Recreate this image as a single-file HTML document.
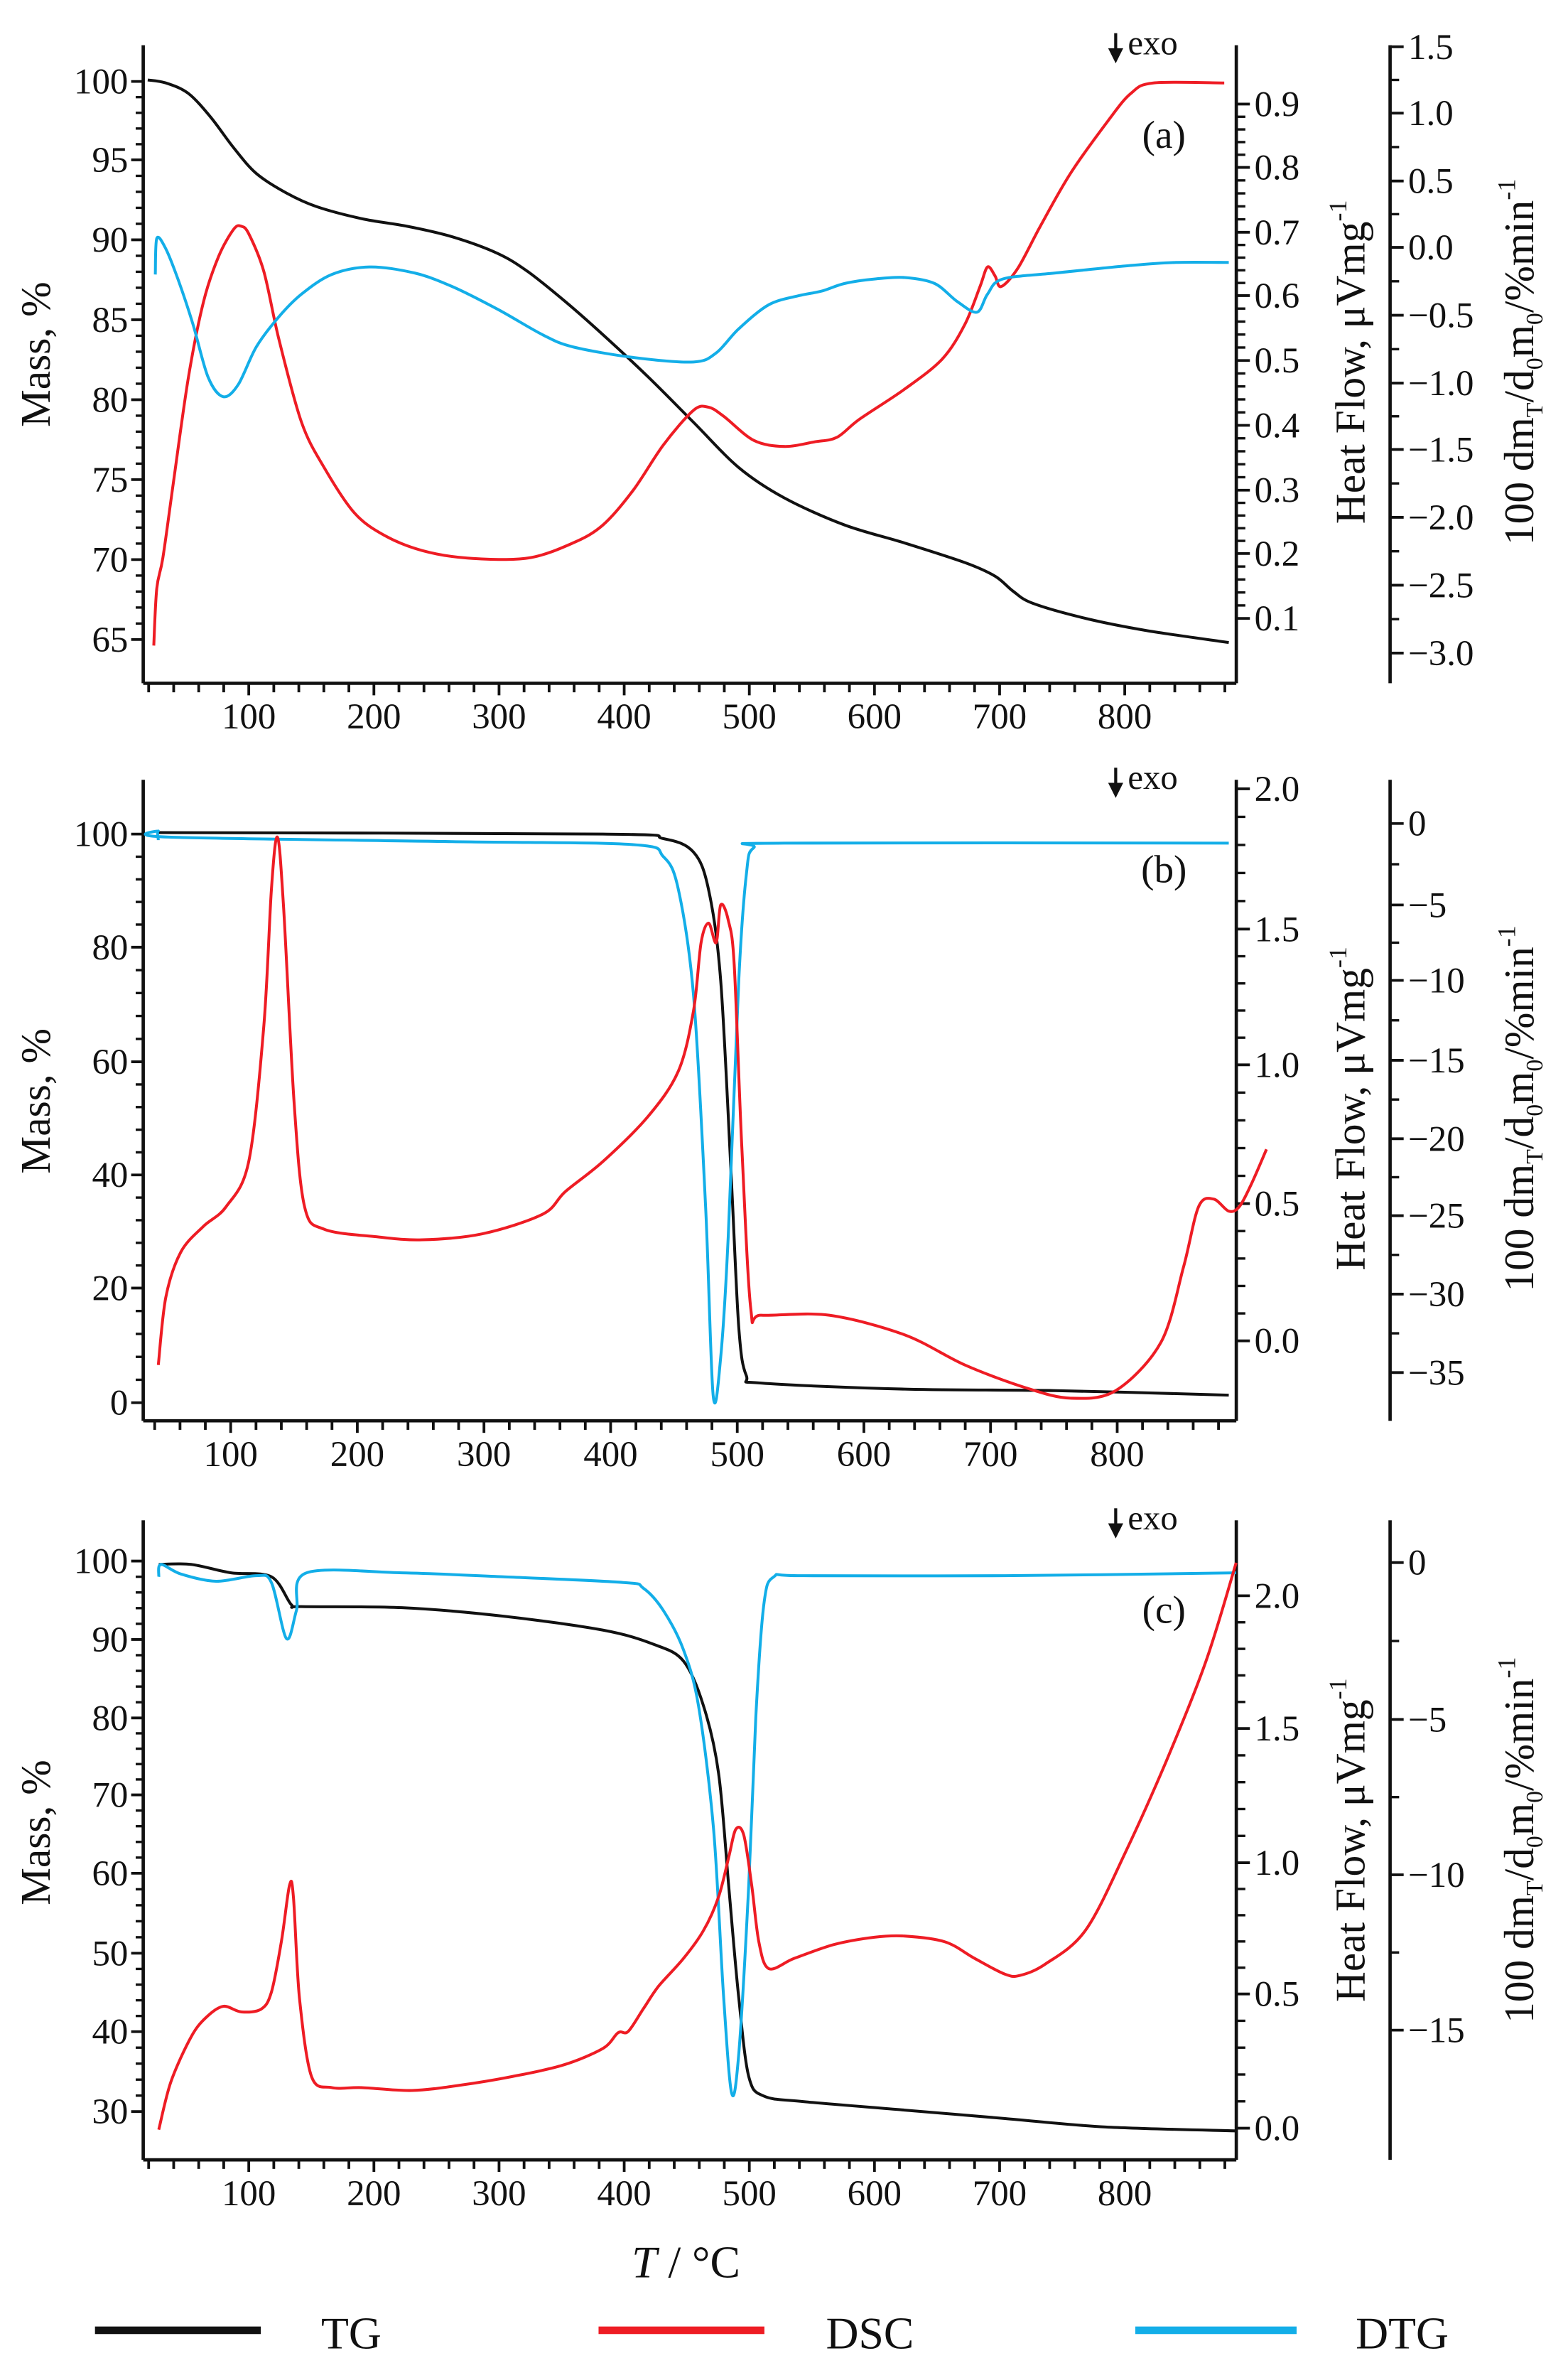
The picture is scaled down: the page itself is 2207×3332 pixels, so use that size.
<!DOCTYPE html>
<html><head><meta charset="utf-8"><style>
html,body{margin:0;padding:0;background:#fff;}
svg{display:block;}
text{font-family:"Liberation Serif",serif;fill:#111;}
</style></head><body>
<svg id="s" width="2207" height="3332" viewBox="0 0 1040 1570" preserveAspectRatio="none" xmlns="http://www.w3.org/2000/svg"></svg>
<script>
const S=document.getElementById('s');let h='';
function ln(x1,y1,x2,y2,w){h+=`<line x1="${x1}" y1="${y1}" x2="${x2}" y2="${y2}" stroke="#111" stroke-width="${w||2.2}"/>`;}
function tx(x,y,t,a,sz,extra){h+=`<text x="${x}" y="${y}" font-size="${sz||24}" text-anchor="${a||'middle'}" ${extra||''}>${t}</text>`;}
function path(p,c){
  let d='M'+p[0][0].toFixed(1)+','+p[0][1].toFixed(1);
  for(let i=0;i<p.length-1;i++){
    const p0=p[i-1]||p[i],p1=p[i],p2=p[i+1],p3=p[i+2]||p2;
    const t=0.16;
    const c1=[p1[0]+(p2[0]-p0[0])*t,p1[1]+(p2[1]-p0[1])*t];
    const c2=[p2[0]-(p3[0]-p1[0])*t,p2[1]-(p3[1]-p1[1])*t];
    d+=` C${c1[0].toFixed(1)},${c1[1].toFixed(1)} ${c2[0].toFixed(1)},${c2[1].toFixed(1)} ${p2[0].toFixed(1)},${p2[1].toFixed(1)}`;
  }
  h+=`<path d="${d}" fill="none" stroke="${c}" stroke-width="1.9" stroke-linejoin="round"/>`;}
const BLK='#111',RED='#ee1c24',BLU='#13aee8';
function panel(top,bot,xlab,xstart,xstep,left,hf,dtg){
  ln(95,top,95,bot);ln(95,bot,820,bot);ln(820,top,820,bot);ln(922,top,922,bot);
  for(let T=0;T<=900;T+=20){let x=xstart+(T-100)*xstep;if(x<97||x>818)continue;ln(x,bot,x,bot+(T%100==0?8:6),1.8);}
  for(let T=100;T<=800;T+=100){tx(xstart+(T-100)*xstep,bot+30,T);}
  left.forEach(([y,l])=>{ln(87,y,95,y,1.8);tx(85,y+8,l,'end');});
  for(let i=0;i<left.length-1;i++){let a=left[i][0],b=left[i+1][0];for(let k=1;k<5;k++){let y=a+(b-a)*k/5;ln(90,y,95,y,1.6);}}
  hf.forEach(([y,l])=>{ln(820,y,829,y,1.8);tx(832,y+8,l,'start');});
  for(let i=0;i<hf.length-1;i++){let a=hf[i][0],b=hf[i+1][0];for(let k=1;k<5;k++){let y=a+(b-a)*k/5;ln(820,y,826,y,1.6);}}
  dtg.forEach(([y,l])=>{ln(922,y,931,y,1.8);tx(934,y+8,l,'start');});
  for(let i=0;i<dtg.length-1;i++){let y=(dtg[i][0]+dtg[i+1][0])/2;ln(922,y,928,y,1.6);}
  h+=`<line x1="740" y1="${top-8}" x2="740" y2="${top+4}" stroke="#111" stroke-width="2"/><polygon points="735,${top+2} 745,${top+2} 740,${top+12}" fill="#111"/>`;
  tx(748,top+6,'exo','start',23);
  tx(772,top+68,xlab,'middle',26);
}
panel(30,453,'(a)',165,0.83,
 [[54,'100'],[106,'95'],[159,'90'],[212,'85'],[265,'80'],[318,'75'],[371,'70'],[424,'65']],
 [[69,'0.9'],[111,'0.8'],[154,'0.7'],[196,'0.6'],[239,'0.5'],[282,'0.4'],[325,'0.3'],[367,'0.2'],[410,'0.1']],
 [[31,'1.5'],[75,'1.0'],[120,'0.5'],[164,'0.0'],[209,'−0.5'],[254,'−1.0'],[298,'−1.5'],[343,'−2.0'],[388,'−2.5'],[433,'−3.0']]);
panel(517,942,'(b)',153,0.84,
 [[553,'100'],[628,'80'],[704,'60'],[779,'40'],[854,'20'],[930,'0']],
 [[523,'2.0'],[616,'1.5'],[706,'1.0'],[798,'0.5'],[889,'0.0']],
 [[546,'0'],[600,'−5'],[650,'−10'],[703,'−15'],[755,'−20'],[806,'−25'],[858,'−30'],[910,'−35']]);
panel(1008,1432,'(c)',165,0.83,
 [[1035,'100'],[1087,'90'],[1139,'80'],[1190,'70'],[1242,'60'],[1295,'50'],[1347,'40'],[1400,'30']],
 [[1058,'2.0'],[1146,'1.5'],[1235,'1.0'],[1322,'0.5'],[1411,'0.0']],
 [[1036,'0'],[1140,'−5'],[1243,'−10'],[1346,'−15']]);
[[235],[730],[1215]].forEach(([c])=>{
 h+=`<text transform="translate(33,${c}) rotate(-90)" font-size="28" text-anchor="middle">Mass, %</text>`;
 h+=`<text transform="translate(905,${c+5}) rotate(-90)" font-size="28" text-anchor="middle">Heat Flow, μVmg<tspan font-size="17" dy="-12">-1</tspan></text>`;
 h+=`<text transform="translate(1017,${c+5}) rotate(-90)" font-size="28" text-anchor="middle">100 dm<tspan font-size="16" dy="6">T</tspan><tspan dy="-6">/d</tspan><tspan font-size="16" dy="6">0</tspan><tspan dy="-6">m</tspan><tspan font-size="16" dy="6">0</tspan><tspan dy="-6">/%min</tspan><tspan font-size="17" dy="-12">-1</tspan></text>`;
});
path([[98,53],[110,55],[125,62],[140,78],[155,98],[170,115],[190,128],[210,137],[240,145],[270,150],[300,157],[330,168],[350,180],[375,200],[400,222],[430,250],[460,280],[490,310],[520,330],[560,348],[600,360],[640,373],[660,382],[672,392],[685,400],[720,410],[760,418],[815,426]],BLK);
path([[102,428],[104,390],[108,370],[115,320],[125,250],[135,200],[145,170],[155,152],[160,150],[165,155],[175,180],[185,225],[200,280],[215,310],[235,340],[255,355],[280,365],[310,370],[350,370],[380,360],[400,348],[420,325],[440,295],[460,272],[470,270],[480,276],[500,292],[520,296],[540,293],[555,290],[570,278],[600,258],[625,238],[640,215],[650,190],[655,177],[660,183],[664,190],[675,178],[690,150],[710,115],[735,80],[750,62],[765,55],[812,55]],RED);
path([[103,182],[104,158],[110,165],[118,185],[128,215],[138,250],[148,263],[158,255],[170,230],[185,210],[200,195],[220,182],[245,177],[275,181],[300,190],[330,205],[360,222],[380,230],[420,237],[460,240],[475,234],[490,218],[510,202],[530,196],[545,193],[560,188],[580,185],[600,184],[620,188],[635,200],[648,207],[655,195],[665,185],[700,181],[750,176],[780,174],[815,174]],BLU);
path([[105,552],[400,553],[440,556],[460,565],[470,590],[478,650],[485,780],[490,880],[495,912],[505,917],[600,921],[700,922],[815,925]],BLK);
path([[105,557],[105,551],[112,555],[300,558],[420,560],[440,568],[450,590],[460,660],[468,800],[473,925],[478,900],[483,820],[490,650],[495,580],[500,562],[520,559],[815,559]],BLU);
path([[105,905],[110,860],[120,830],[135,813],[150,800],[165,770],[175,680],[180,590],[184,555],[188,600],[195,730],[202,800],[215,815],[250,820],[280,822],[320,818],[360,805],[375,790],[400,770],[430,740],[450,710],[460,670],[465,625],[470,612],[475,625],[478,600],[483,610],[487,640],[492,760],[498,868],[505,872],[550,872],[600,885],[640,905],[680,920],[710,927],[740,922],[770,890],[785,840],[795,800],[805,795],[815,803],[822,800],[830,785],[840,762]],RED);
const cv=a=>a.map(([x,y])=>[x*0.6666,989.6+y*0.3722]);
path(cv([[158,128],[190,128],[230,143],[270,150],[290,200],[300,203],[400,205],[500,220],[600,245],[650,270],[680,300],[700,380],[715,500],[725,700],[735,900],[745,1040],[760,1075],[800,1085],[900,1100],[1000,1115],[1100,1130],[1230,1137]]),BLK);
path(cv([[158,150],[160,128],[180,145],[215,158],[255,148],[270,160],[285,260],[295,210],[305,143],[400,143],[500,150],[620,160],[640,170],[660,210],[680,280],[695,380],[710,600],[720,900],[728,1070],[735,1000],[745,700],[752,400],[760,200],[770,150],[800,148],[1000,148],[1230,143]]),BLU);
path(cv([[158,1135],[170,1050],[190,970],[205,935],[222,915],[240,925],[260,920],[270,890],[280,800],[288,700],[292,720],[298,900],[310,1040],[330,1060],[360,1060],[410,1065],[460,1055],[510,1040],[560,1020],[600,990],[615,962],[625,960],[640,920],[655,880],[680,830],[700,780],[715,720],[725,650],[732,600],[740,610],[748,700],[755,800],[765,848],[790,830],[830,805],[870,792],[900,790],[940,800],[970,830],[1000,858],[1015,860],[1040,840],[1080,780],[1120,640],[1160,480],[1200,300],[1230,125]]),RED);
h+=`<text x="455" y="1510" font-size="30" text-anchor="middle"><tspan font-style="italic">T</tspan> / °C</text>`;
h+=`<line x1="63" y1="1545" x2="173" y2="1545" stroke="${BLK}" stroke-width="5"/>`;tx(233,1557,'TG','middle',30);
h+=`<line x1="397" y1="1545" x2="507" y2="1545" stroke="${RED}" stroke-width="5"/>`;tx(577,1557,'DSC','middle',30);
h+=`<line x1="753" y1="1545" x2="860" y2="1545" stroke="${BLU}" stroke-width="5"/>`;tx(930,1557,'DTG','middle',30);
S.innerHTML=h;
</script>
</body></html>
